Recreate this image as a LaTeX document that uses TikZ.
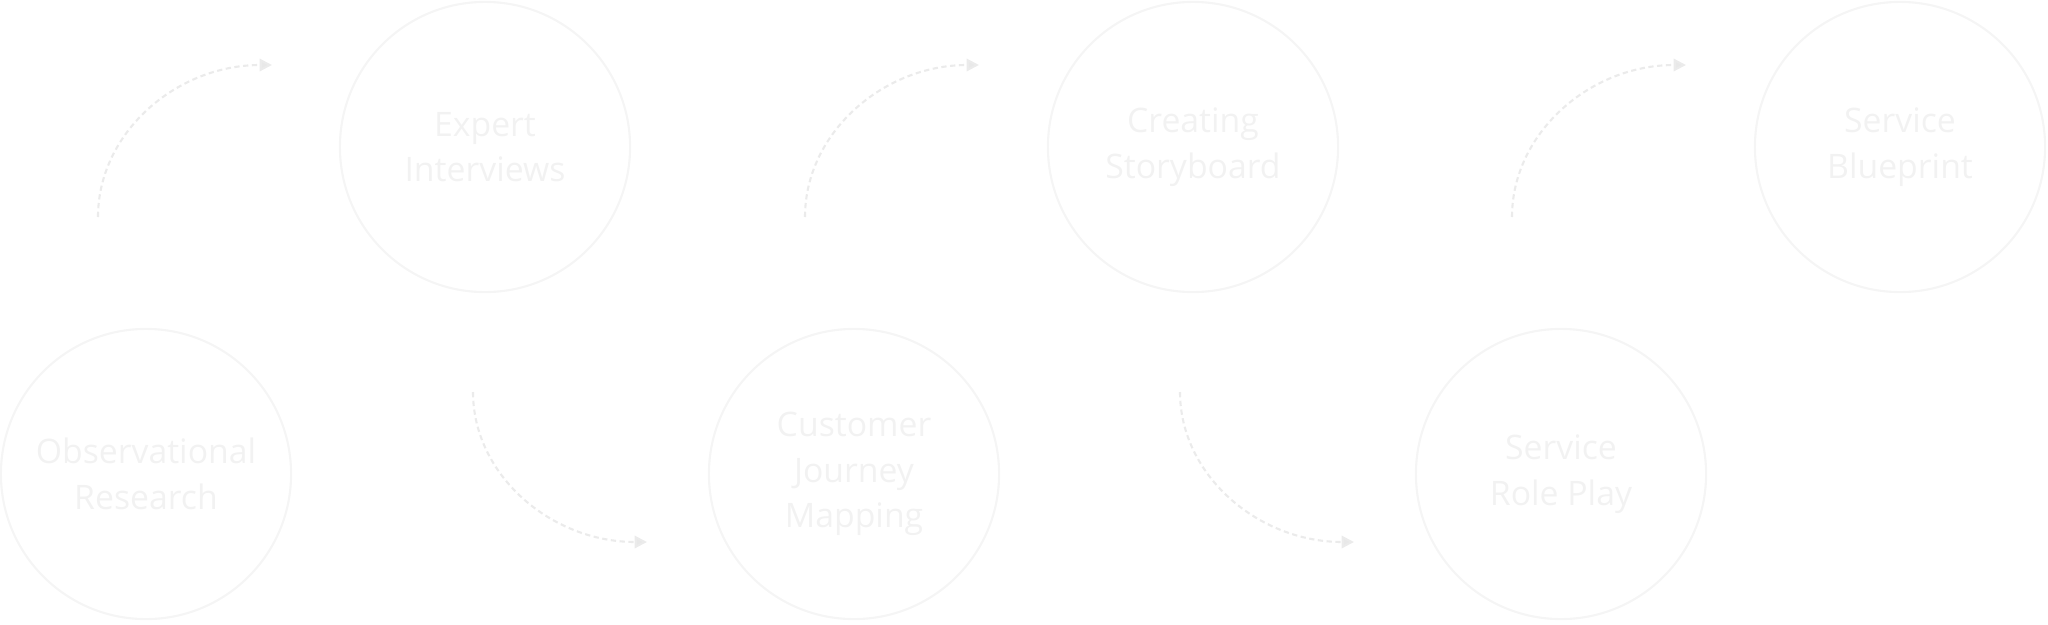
\documentclass[tikz,border=0pt]{standalone}
\usepackage{fontspec}
\setmainfont{Open Sans}
\usetikzlibrary{arrows.meta,calc}
\begin{document}
\begin{tikzpicture}[x=0.01cm,y=-0.01cm,
  stage/.style={circle,draw=black!4,line width=0.6pt,minimum size=2.9cm,inner sep=0pt,
    text=black!5,font=\fontsize{9.6}{13}\selectfont,align=center},
  flow/.style={draw=black!8,line width=0.6pt,dash pattern=on 1.5pt off 1pt,
    -{Triangle[length=3.5pt,width=3.5pt,fill=black!9]}}]
\useasboundingbox (0,0) rectangle (2048,624);
% bottom row
\node[stage] (b1) at (146,474) {Observational\\Research};
\node[stage] (b2) at (854,474) {Customer\\Journey\\Mapping};
\node[stage] (b3) at (1561,474) {Service\\Role Play};
% top row
\node[stage] (t1) at (485,147) {Expert\\Interviews};
\node[stage] (t2) at (1193,147) {Creating\\Storyboard};
\node[stage] (t3) at (1900,147) {Service\\Blueprint};
% connector end points
\coordinate (u1s) at (98,217);   \coordinate (u1e) at (272,65);
\coordinate (d1s) at (473,392);  \coordinate (d1e) at (647,542);
\coordinate (u2s) at (805,217);  \coordinate (u2e) at (979,65);
\coordinate (d2s) at (1180,392); \coordinate (d2e) at (1354,542);
\coordinate (u3s) at (1512,217); \coordinate (u3e) at (1686,65);
% connectors
\draw[flow] (u1s) .. controls ($(u1s)+(0,-84)$) and ($(u1e)+(-96,0)$) .. (u1e);
\draw[flow] (d1s) .. controls ($(d1s)+(0,83)$) and ($(d1e)+(-96,0)$) .. (d1e);
\draw[flow] (u2s) .. controls ($(u2s)+(0,-84)$) and ($(u2e)+(-96,0)$) .. (u2e);
\draw[flow] (d2s) .. controls ($(d2s)+(0,83)$) and ($(d2e)+(-96,0)$) .. (d2e);
\draw[flow] (u3s) .. controls ($(u3s)+(0,-84)$) and ($(u3e)+(-96,0)$) .. (u3e);
\end{tikzpicture}
\end{document}
